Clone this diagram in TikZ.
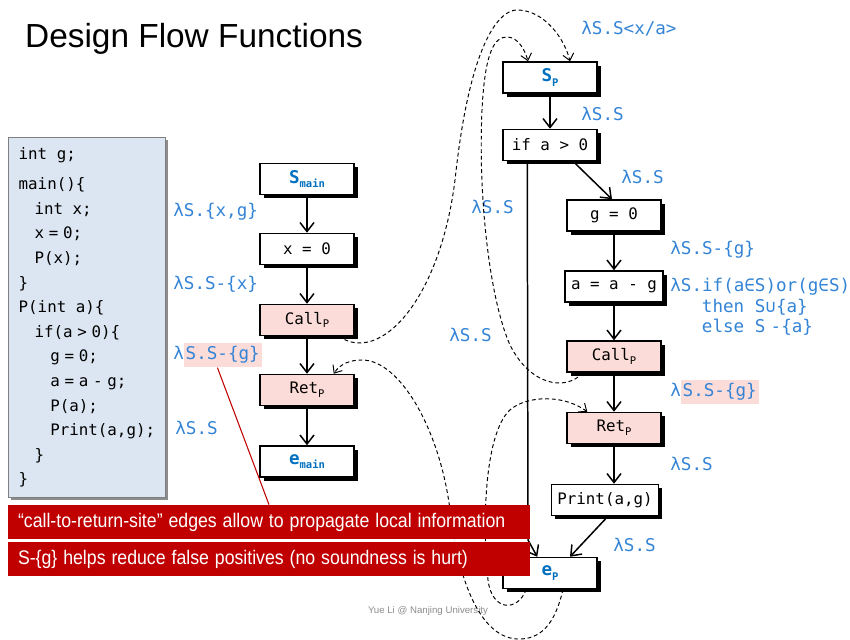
\documentclass[tikz,border=0pt]{standalone}
\usepackage{fontspec}
\setmainfont{Liberation Sans}
\newfontfamily\codefont{DejaVu Sans Mono}
\usepackage{xcolor}
\usepackage{graphicx}
\usepackage{tikz}
\usetikzlibrary{positioning,arrows.meta,calc,shadows}
\definecolor{lamblue}  {HTML}{3383D6}
\definecolor{entryblue}{HTML}{0070C0}
\definecolor{sitebg}   {HTML}{FCDCD8}
\definecolor{codebg}   {HTML}{DCE6F2}
\definecolor{codeline} {HTML}{7F7F7F}
\definecolor{alertred} {HTML}{C00000}
\definecolor{footgray} {HTML}{8C8C8C}
\newcommand{\codesp}{\hspace{0.3em}}
\newcommand{\fullsp}{\hspace{0.6em}}
\newcommand{\lowsub}[1]{\raisebox{-0.45ex}{\fontsize{6}{7}\selectfont #1}}
\newcommand{\pinkhl}[1]{{\setlength{\fboxsep}{1pt}\colorbox{sitebg}{\strut #1}}}
\newcommand{\narrowtext}[1]{\scalebox{0.9}[1]{#1}}
\tikzset{
  stmt/.style    = {draw=black, line width=0.85pt, fill=white,
                    minimum width=1.88cm, minimum height=0.62cm, inner xsep=0.12cm,
                    font=\codefont\fontsize{9}{11}\selectfont,
                    drop shadow={shadow xshift=2.2pt, shadow yshift=-2.2pt,
                                 fill=black, opacity=1}},
  site/.style    = {stmt, fill=sitebg},
  term/.style    = {stmt, text=entryblue, font=\codefont\bfseries\fontsize{10}{11}\selectfont},
  flow/.style    = {-{Straight Barb[length=1.8mm, width=2.8mm]}, line width=0.85pt},
  interflow/.style = {-{Straight Barb[length=1.3mm, width=2.2mm]},
                    dash pattern=on 2.2pt off 1.6pt, line width=0.55pt},
  lam/.style     = {font=\codefont\fontsize{10}{12}\selectfont, text=lamblue,
                    anchor=west, inner sep=0pt},
  codebox/.style = {fill=codebg, draw=codeline, line width=0.8pt, align=left,
                    text width=2.74cm, inner xsep=0.2cm, minimum height=7.2cm,
                    font=\codefont\fontsize{9}{14}\selectfont,
                    drop shadow={shadow xshift=1.5pt, shadow yshift=-1.5pt,
                                 fill=black!45, opacity=1}},
  note/.style    = {fill=alertred, text=white, minimum height=0.68cm,
                    text width=10.04cm, inner xsep=0.2cm, align=left,
                    font=\fontsize{11.2}{13}\selectfont},
  callout/.style = {draw=alertred, line width=0.6pt},
}
\begin{document}
\begin{tikzpicture}
  \useasboundingbox (0,0) rectangle (17,12.8);
  % title and footer
  \node[anchor=west, font=\fontsize{19}{22}\selectfont] (title) at (0.38,12.02) {Design Flow Functions};
  \node[text=footgray, font=\fontsize{5.5}{6}\selectfont] (foot) at (8.56,0.58) {Yue Li @ Nanjing University};

  % source code
  \node[codebox, anchor=north west] (src) at (0.16,10.06) {int\fullsp g;\\[3pt]
    main()\{\\
    \hspace*{1em}int\fullsp x;\\
    \hspace*{1em}x\codesp=\codesp0;\\
    \hspace*{1em}P(x);\\
    \}\\
    P(int\fullsp a)\{\\
    \hspace*{1em}if(a\codesp>\codesp0)\{\\
    \hspace*{2em}g\codesp=\codesp0;\\
    \hspace*{2em}a\codesp=\codesp a\codesp-\codesp g;\\
    \hspace*{2em}P(a);\\
    \hspace*{2em}Print(a,g);\\
    \hspace*{1em}\}\\
    \}};

  % main
  \node[term] (smain) at (6.14,9.22) {S\lowsub{main}};
  \node[stmt] (x0)    at (6.14,7.82) {x = 0};
  \node[site] (callm) at (6.14,6.40) {Call\lowsub{P}};
  \node[site] (retm)  at (6.14,5.00) {Ret\lowsub{P}};
  \node[term] (emain) at (6.14,3.57) {e\lowsub{main}};

  % P
  \node[term] (sp)    at (11.0,11.25) {S\lowsub{P}};
  \node[stmt] (ifa)   at (11.0,9.90)  {if a > 0};
  \node[stmt] (g0)    at (12.28,8.49) {g = 0};
  \node[stmt] (aag)   at (12.28,7.07) {a = a - g};
  \node[site] (callp) at (12.28,5.67) {Call\lowsub{P}};
  \node[site] (retp)  at (12.28,4.24) {Ret\lowsub{P}};
  \node[stmt] (prt)   at (12.10,2.80) {Print(a,g)};
  \node[term] (ep)    at (11.0,1.34)  {e\lowsub{P}};
  \coordinate (fbend) at (10.56,2.0);

  % flow functions
  \node[lam] (l1)  at (3.46,8.56)  {λS.\{x,g\}};
  \node[lam] (l2)  at (3.46,7.12)  {λS.S-\{x\}};
  \node[lam] (l3)  at (3.46,5.70)  {λ\pinkhl{S.S-\{g\}}};
  \node[lam] (l4)  at (3.50,4.24)  {λS.S};
  \node[lam] (l5)  at (11.62,12.22) {λS.S<x/a>};
  \node[lam] (l6)  at (11.62,10.52) {λS.S};
  \node[lam] (l7)  at (12.42,9.26) {λS.S};
  \node[lam] (l8)  at (9.42,8.66)  {λS.S};
  \node[lam] (l9)  at (13.4,7.80)  {λS.S-\{g\}};
  \node[lam, anchor=north west, align=left, font=\codefont\fontsize{10}{11.7}\selectfont]
    (l10) at (13.4,7.24) {λS.if(a∈S)or(g∈S)\\
    \hspace*{1.8em}then S∪\{a\}\\
    \hspace*{1.8em}else S\codesp-\{a\}};
  \node[lam] (l11) at (8.98,6.10)  {λS.S};
  \node[lam] (l12) at (13.4,4.96)  {λ\pinkhl{S.S-\{g\}}};
  \node[lam] (l13) at (13.4,3.52)  {λS.S};
  \node[lam] (l14) at (12.26,1.90) {λS.S};

  % intraprocedural edges
  \draw[flow] (smain) -- (x0);
  \draw[flow] (x0) -- (callm);
  \draw[flow] (callm) -- (retm);
  \draw[flow] (retm) -- (emain);
  \draw[flow] (sp) -- (ifa);
  \draw[flow] ([xshift=0.46cm]ifa.south) -- ([xshift=-0.04cm]g0.north);
  \draw[flow] (g0) -- (aag);
  \draw[flow] (aag) -- (callp);
  \draw[flow] (callp) -- (retp);
  \draw[flow] (retp.south) -- (retp.south |- prt.north);
  \draw[flow] ([xshift=0.06cm]prt.south) -- ([xshift=0.4cm]ep.north);
  \draw[flow] ([xshift=0.5cm]ifa.south west) -- (fbend) -- ([xshift=0.7cm]ep.north west);

  % call and return edges
  \draw[interflow] ([xshift=-0.32cm]callm.south east)
    .. controls (7.6,5.5) and (8.8,6.8) .. (9.1,9.2)
    .. controls (9.4,12.0) and (10.0,12.6) .. (10.34,12.6)
    .. controls (10.9,12.6) and (11.3,12.0) .. ([xshift=0.4cm]sp.north);
  \draw[interflow] ([xshift=-0.62cm]callp.south)
    .. controls (11.3,4.96) and (10.6,5.1) .. (10.2,5.9)
    .. controls (9.8,6.8) and (9.56,8.8) .. (9.64,10.6)
    .. controls (9.7,11.8) and (9.9,12.06) .. (10.14,12.06)
    .. controls (10.36,12.06) and (10.5,11.8) .. ([xshift=-0.44cm]sp.north);
  \draw[interflow] ([xshift=0.26cm]ep.south)
    .. controls (11.1,0.3) and (10.8,0.0) .. (10.34,0.02)
    .. controls (9.6,0.06) and (9.16,1.2) .. (9.0,2.6)
    .. controls (8.8,4.2) and (8.0,5.6) .. (7.24,5.6)
    .. controls (7.0,5.6) and (6.8,5.52) .. ([xshift=-0.42cm]retm.north east);
  \draw[interflow] ([xshift=0.48cm]ep.south west)
    .. controls (10.36,0.56) and (9.84,0.56) .. (9.76,1.2)
    .. controls (9.64,2.4) and (9.7,4.0) .. (10.14,4.54)
    .. controls (10.4,4.86) and (11.2,4.96) .. ([xshift=0.42cm]retp.north west);

  % notes
  \node[note] (note1) at (5.38,2.36) {\narrowtext{“call-to-return-site” edges allow to propagate local information}};
  \node[note] (note2) at (5.38,1.62) {\narrowtext{S-\{g\} helps reduce false positives (no soundness is hurt)}};
  \draw[callout] (l3.south) -- (note1.north);
\end{tikzpicture}
\end{document}
